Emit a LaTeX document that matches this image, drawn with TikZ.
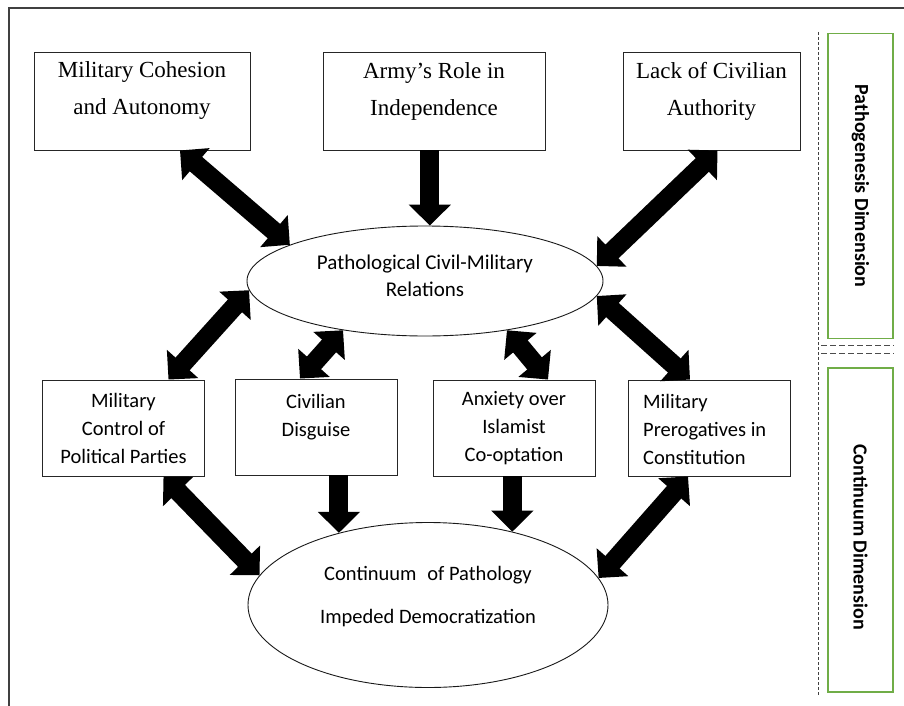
\documentclass[tikz,border=0pt]{standalone}
\usepackage{fontspec}
\setmainfont{Liberation Serif}
\newfontfamily\calib{Carlito}
\usetikzlibrary{arrows.meta,shapes.geometric,calc}
\definecolor{dimgreen}{RGB}{112,173,71}
\begin{document}
\begin{tikzpicture}[x=1pt,y=-1pt,
  topbox/.style={draw=black!85, line width=0.9pt, inner sep=0pt, minimum height=98pt},
  midbox/.style={draw=black!85, line width=0.9pt, inner sep=0pt, minimum width=162pt, minimum height=96pt},
  oval/.style={ellipse, draw=black!90, line width=0.9pt, inner sep=0pt},
  toptext/.style={align=center, inner sep=0pt, font=\fontsize{23}{37}\selectfont},
  midtext/.style={align=center, inner sep=0pt, font=\calib\fontsize{20.5}{28}\selectfont},
  dimbox/.style={draw=dimgreen, line width=1.2pt, inner sep=0pt, minimum width=65pt},
  dimtext/.style={rotate=-90, inner sep=0pt, font=\calib\bfseries\fontsize{20}{24}\selectfont},
  dbl/.style={line width=19pt, arrows={Triangle[width=41pt,length=21pt]-Triangle[width=41pt,length=21pt]}},
  sgl/.style={line width=19pt, arrows={-Triangle[width=41pt,length=21pt]}}
]
\useasboundingbox (0,0) rectangle (904,706);
\fill[white] (0,0) rectangle (904,706);
% frame
\draw[black!75, line width=1.3pt] (9,706) -- (9,8) -- (904,8);

% top boxes
\node[topbox, minimum width=216pt] (b1) at (142,101) {};
\node[topbox, minimum width=222pt] (b2) at (434,101) {};
\node[topbox, minimum width=177pt] (b3) at (711.5,101) {};
\node[toptext] (t1) at (142,91) {Military Cohesion\\and Autonomy};
\node[toptext] (t2) at (434,91) {Army’s Role in\\Independence};
\node[toptext] (t3) at (711.5,91) {Lack of Civilian\\Authority};

% ellipses
\node[oval, minimum width=356pt, minimum height=110pt] (e1) at (425,281) {};
\node[midtext, font=\calib\fontsize{21}{27}\selectfont] (te1) at (425,276) {Pathological Civil-Military\\Relations};
\node[oval, minimum width=360pt, minimum height=165pt] (e2) at (428,605) {};
\node[midtext, font=\calib\fontsize{20.5}{43}\selectfont] (te2) at (428,596.5) {Continuum\hspace{0.3em} of Pathology\\Impeded Democratization};

% middle boxes
\node[midbox] (bA) at (123.5,428) {};
\node[midbox] (bB) at (316,427) {};
\node[midbox] (bC) at (514,428) {};
\node[midbox] (bD) at (709,428) {};
\node[midtext] (tA) at (123.5,428) {Military\\Control of\\Political Parties};
\node[midtext] (tB) at (316,417) {Civilian\\Disguise};
\node[midtext] (tC) at (514,428) {Anxiety over\\Islamist\\Co-optation};
\node[midtext, align=left, anchor=west] (tD) at (643,429) {Military\\Prerogatives in\\Constitution};

% arrows
\draw[dbl] ([xshift=38pt]b1.south) -- (e1.165);
\draw[sgl] (b2.south -| e1.85) -- (e1.85);
\draw[dbl] ([xshift=6pt]b3.south) -- (e1.5);
\draw[dbl] (e1.183) -- ([xshift=45pt]bA.north);
\draw[dbl] (e1.211) -- ([xshift=-16pt]bB.north);
\draw[dbl] (e1.329) -- ([xshift=34pt]bC.north);
\draw[dbl] (e1.355) -- ([xshift=-19pt]bD.north);
\draw[dbl] ([xshift=40pt]bA.south) -- (e2.170);
\draw[sgl] (bB.south -| e2.141) -- (e2.141);
\draw[sgl] (bC.south -| e2.41) -- (e2.41);
\draw[dbl] ([xshift=-21pt]bD.south) -- (e2.9);

% right panel
\draw[black!75, line width=1pt, dash pattern=on 3pt off 2pt] (818,32) -- (818,695);
\node[dimbox, minimum height=305pt] (g1) at (860.5,186) {};
\node[dimbox, minimum height=324pt] (g2) at (860.5,530) {};
\node[dimtext] (gt1) at (g1.center) {Pathogenesis Dimension};
\node[dimtext] (gt2) at ([yshift=-7pt]g2.center) {Continuum Dimension};
\draw[black!70, line width=1pt, dash pattern=on 6pt off 3pt] (821,345) -- (894,345);
\draw[black!70, line width=1pt, dash pattern=on 6pt off 3pt] (821,353) -- (894,353);
\end{tikzpicture}
\end{document}
